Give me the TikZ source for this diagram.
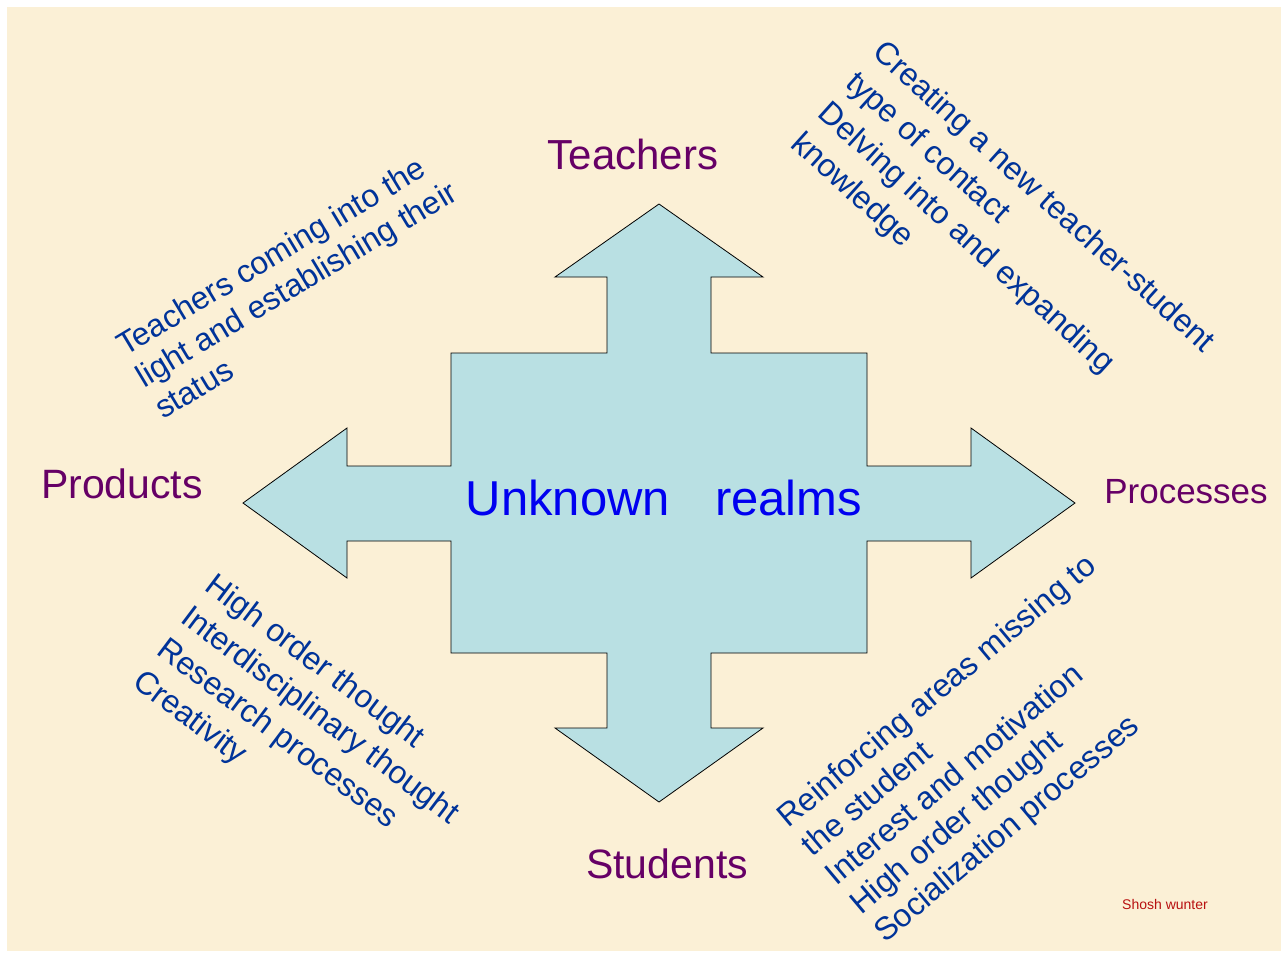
\documentclass[tikz,border=0pt]{standalone}
\usepackage{fontspec}
\setmainfont{Liberation Sans}
\definecolor{bg}{HTML}{FBF0D6}
\definecolor{arrowfill}{HTML}{B9E0E3}
\definecolor{labpurple}{HTML}{660066}
\definecolor{diagblue}{HTML}{003399}
\definecolor{centerblue}{HTML}{0000F0}
\definecolor{sigred}{HTML}{B81010}
\begin{document}
\begin{tikzpicture}[x=1pt,y=-1pt,
  axislab/.style={text=labpurple, inner sep=0, anchor=base, font=\fontsize{41}{49}\selectfont},
  diagtext/.style={text=diagblue, inner sep=0, align=left, anchor=base west}]
\fill[white] (0,0) rectangle (1286,954);
\useasboundingbox (0,0) rectangle (1286,954);
\fill[bg] (7,7) rectangle (1281,951);
% four-way arrow shape
\draw[fill=arrowfill, line width=0.8pt, line join=miter]
  (659,204) -- (763,277) -- (711,277) -- (711,353) -- (867,353) -- (867,466)
  -- (971,466) -- (971,428) -- (1075,503) -- (971,578) -- (971,541) -- (867,541)
  -- (867,653) -- (711,653) -- (711,728) -- (763,728) -- (659,802) -- (555,728)
  -- (607,728) -- (607,653) -- (451,653) -- (451,541) -- (347,541) -- (347,578)
  -- (243,503) -- (347,428) -- (347,466) -- (451,466) -- (451,353) -- (607,353)
  -- (607,277) -- (555,277) -- cycle;
\node[text=centerblue, font=\fontsize{49}{58}\selectfont, anchor=base, inner sep=0] (center) at (664,515) {Unknown\hspace*{45pt}realms};
% direction labels
\node[axislab, font=\fontsize{42}{50}\selectfont] (teachers) at (633,169) {Teachers};
\node[axislab] (products) at (122,498) {Products};
\node[axislab, font=\fontsize{35}{42}\selectfont] (processes) at (1186,503) {Processes};
\node[axislab] (students) at (667,878) {Students};
% diagonal texts (anchored at the baseline start of their last line)
\node[diagtext, rotate=31, font=\fontsize{31.8}{37}\selectfont] (tl) at (163,420)
  {Teachers coming into the\\light and establishing their\\status};
\node[diagtext, rotate=-42, font=\fontsize{32}{41}\selectfont] (tr) at (789,146)
  {Creating a new teacher-student\\type of contact\\Delving into and expanding\\knowledge};
\node[diagtext, rotate=-37, font=\fontsize{32}{40}\selectfont] (bl) at (131,685)
  {High order thought\\Interdisciplinary thought\\Research processes\\Creativity};
\node[diagtext, rotate=40, font=\fontsize{32}{37.5}\selectfont] (br) at (885,944)
  {Reinforcing areas missing to\\the student\\Interest and motivation\\High order thought\\Socialization processes};
% signature
\node[text=sigred, font=\fontsize{14}{16}\selectfont, anchor=base west, inner sep=0] (sig) at (1122,909) {Shosh wunter};
\end{tikzpicture}
\end{document}
